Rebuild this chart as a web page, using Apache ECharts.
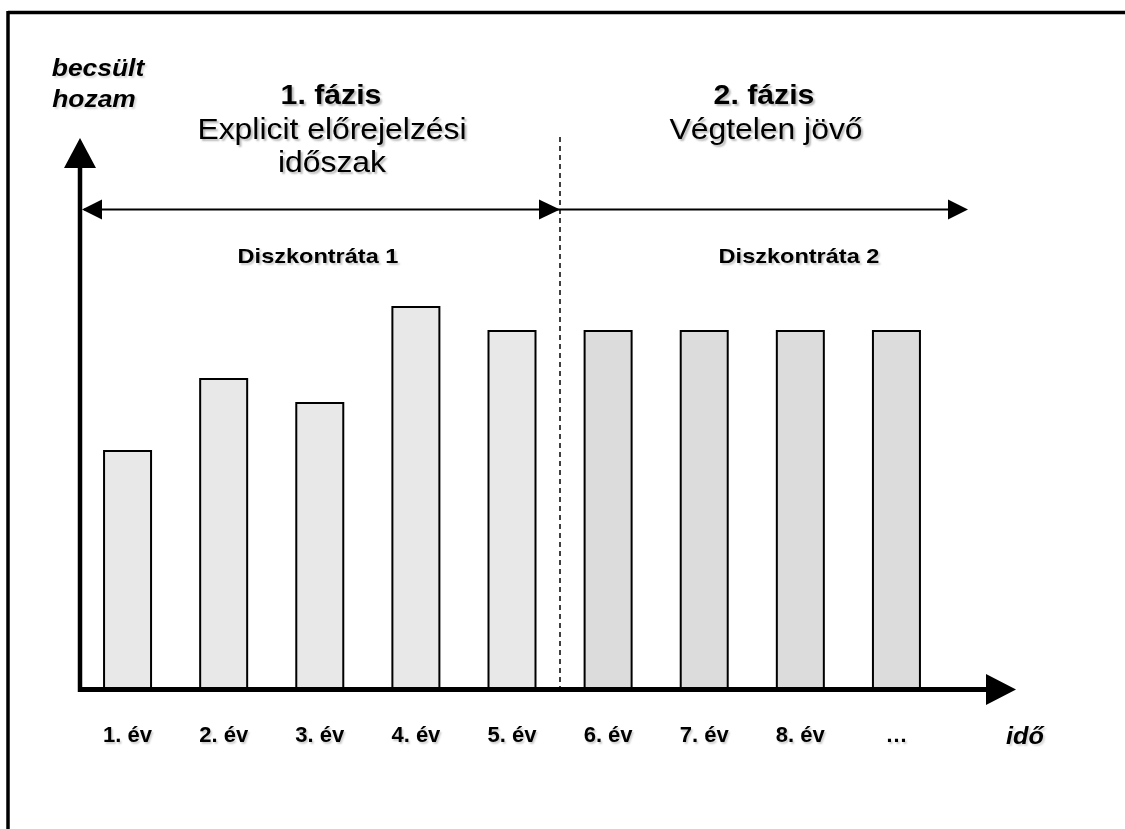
<!DOCTYPE html>
<html>
<head>
<meta charset="utf-8">
<script src="https://cdn.jsdelivr.net/npm/echarts@6/dist/echarts.min.js"></script>
<style>
html,body{margin:0;padding:0;background:#fff;}
#chart{width:1125px;height:829px;}
</style>
</head>
<body>
<div id="chart"></div>
<script>
const categories = ['1. év','2. év','3. év','4. év','5. év','6. év','7. év','8. év','…'];
const values = [10, 13, 12, 16, 15, 15, 15, 15, 15];
const phase1Count = 5;
const yAxisTitle = ['becsült', 'hozam'];
const xAxisTitle = 'idő';
const phase1Title = ['1. fázis', 'Explicit előrejelzési', 'időszak'];
const phase2Title = ['2. fázis', 'Végtelen jövő'];
const rateLabels = ['Diszkontráta 1', 'Diszkontráta 2'];

const FONT = '"Liberation Sans", Arial, sans-serif';
const SX = 1.08;

function txt(text, x, y, size, weight, style, scale, shadow) {
  const s = shadow === undefined ? 0.28 : shadow;
  return {
    type: 'text', x: x, y: y, scaleX: scale || SX, z: 100,
    style: {
      text: text, fill: '#000',
      font: (style || 'normal') + ' ' + (weight || 'normal') + ' ' + size + 'px ' + FONT,
      textAlign: 'center', textVerticalAlign: 'middle',
      textShadowColor: 'rgba(0,0,0,' + s + ')', textShadowOffsetX: 2, textShadowOffsetY: 2, textShadowBlur: 2
    }
  };
}
function line(x1, y1, x2, y2, w, dash) {
  return {
    type: 'line', z: 100,
    shape: {x1: x1, y1: y1, x2: x2, y2: y2},
    style: {stroke: '#000', lineWidth: w, lineDash: dash || null}
  };
}
function tri(points) {
  return {type: 'polygon', z: 100, shape: {points: points}, style: {fill: '#000'}};
}

const chart = echarts.init(document.getElementById('chart'));
chart.setOption({
  animation: false,
  backgroundColor: '#fff',
  grid: {left: 79.5, right: 180.5, top: 138, bottom: 139, containLabel: false},
  xAxis: {
    type: 'category', data: categories,
    axisLine: {show: false}, axisTick: {show: false},
    axisLabel: {
      margin: 35, fontSize: 22, fontWeight: 'bold', fontFamily: FONT, color: '#000',
      textShadowColor: 'rgba(0,0,0,0.2)', textShadowOffsetX: 1.5, textShadowOffsetY: 1.5, textShadowBlur: 2
    }
  },
  yAxis: {
    type: 'value', min: 0, max: 23,
    axisLine: {show: false}, axisTick: {show: false}, axisLabel: {show: false}, splitLine: {show: false}
  },
  series: [{
    type: 'bar', data: values, barWidth: 49,
    itemStyle: {
      color: function (p) { return p.dataIndex < phase1Count ? '#e8e8e8' : '#dcdcdc'; },
      borderColor: '#000', borderWidth: 2
    }
  }],
  graphic: [
    // frame
    line(8, 12.5, 1125, 12.5, 3.5),
    line(8, 11, 8, 829, 3.5),
    // y axis with arrow
    line(80, 692, 80, 166, 4.5),
    tri([[80, 138], [64, 168], [96, 168]]),
    // x axis with arrow
    line(78, 689.5, 988, 689.5, 5),
    tri([[1016, 689.5], [986, 674], [986, 705]]),
    // phase divider
    line(560, 137, 560, 690, 1.5, [5, 4]),
    // phase arrows
    line(84, 209.5, 964, 209.5, 1.8),
    tri([[82, 209.5], [102, 199.5], [102, 219.5]]),
    tri([[560, 209.5], [539, 199.5], [539, 219.5]]),
    tri([[968, 209.5], [948, 199.5], [948, 219.5]]),
    // texts
    txt(yAxisTitle[0], 98, 69, 24, 'bold', 'italic', 1.1, 0.15),
    txt(yAxisTitle[1], 94, 100, 24, 'bold', 'italic', 1.1, 0.15),
    txt(phase1Title[0], 331, 96, 28, 'bold'),
    txt(phase1Title[1], 332, 131, 29.5),
    txt(phase1Title[2], 332, 164, 29.5),
    txt(phase2Title[0], 764, 96, 28, 'bold'),
    txt(phase2Title[1], 766, 131, 29.5),
    txt(rateLabels[0], 318, 257, 21, 'bold', 'normal', 1.12, 0.2),
    txt(rateLabels[1], 799, 257, 21, 'bold', 'normal', 1.12, 0.2),
    txt(xAxisTitle, 1025, 737, 24, 'bold', 'italic', 1.05, 0.15)
  ]
});
</script>
</body>
</html>
